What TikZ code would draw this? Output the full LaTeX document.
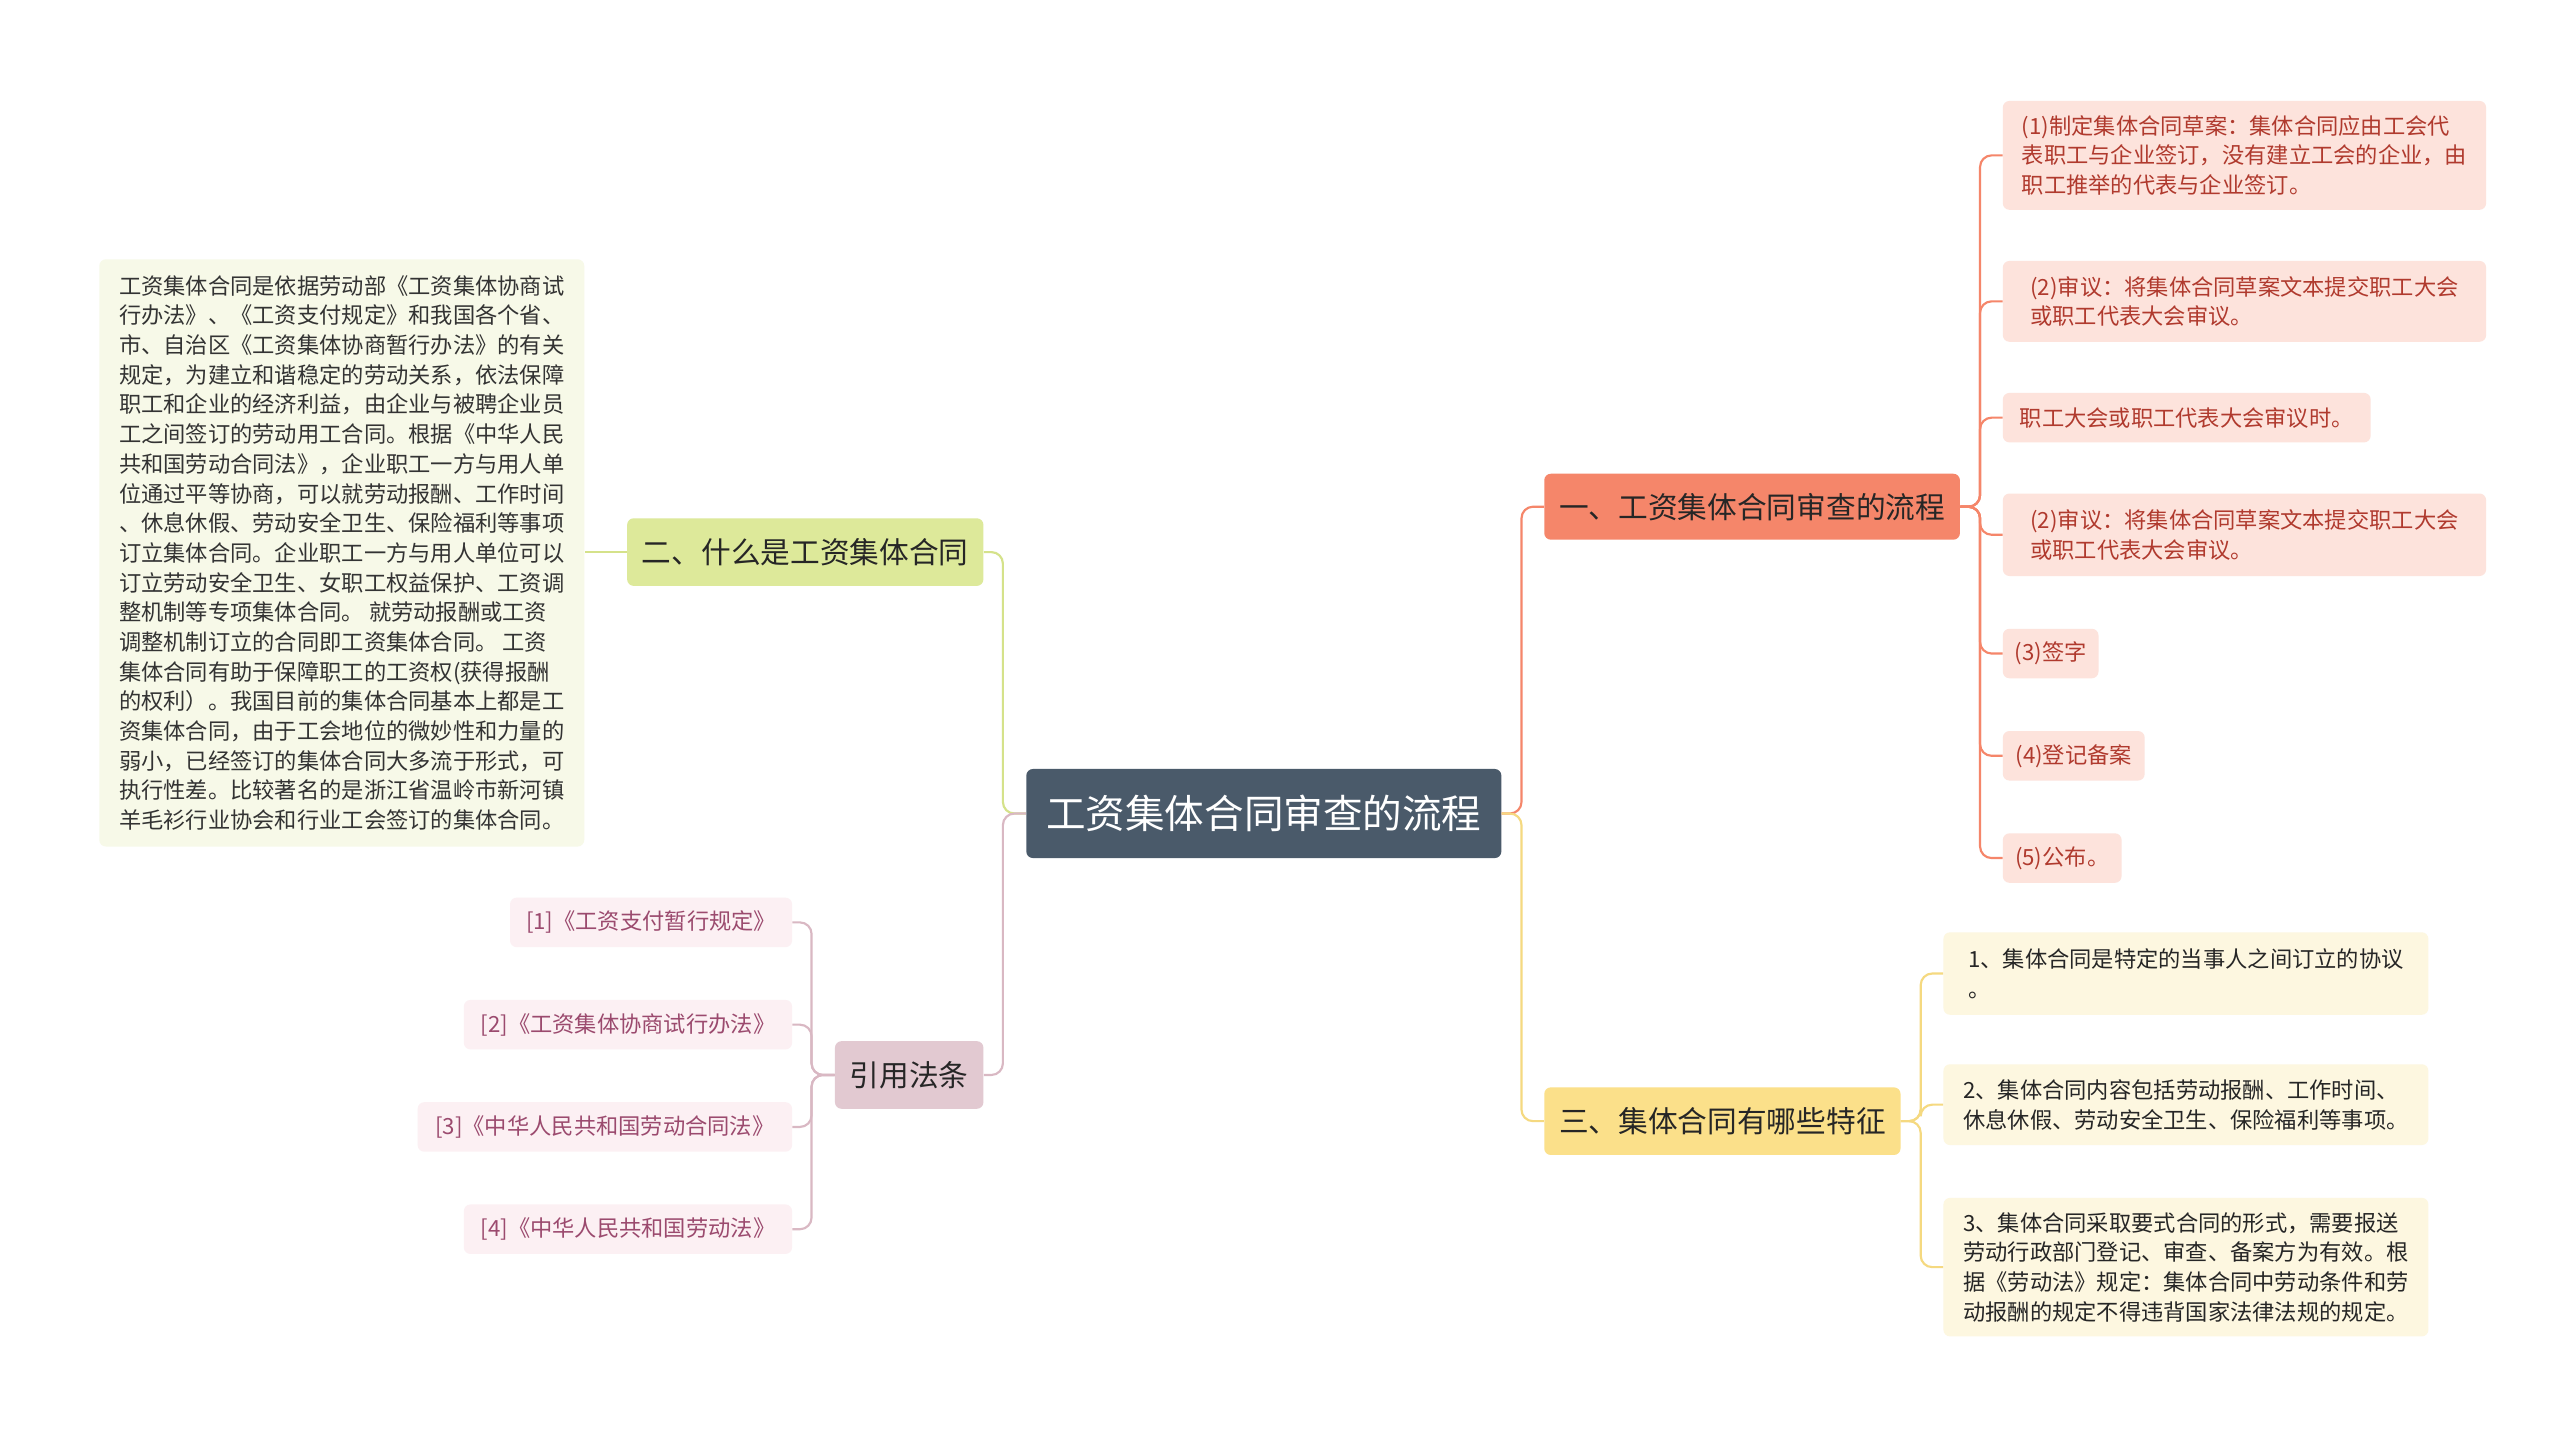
\documentclass[tikz,border=0pt]{standalone}
\usepackage{fontspec}
\setmainfont{Noto Sans CJK SC}
\definecolor{cen}{HTML}{4A5A6A}
\definecolor{sal}{HTML}{F5866A}
\definecolor{salL}{HTML}{FDE3DC}
\definecolor{salT}{HTML}{B03A2E}
\definecolor{yel}{HTML}{FBE08A}
\definecolor{yelL}{HTML}{FDF7E0}
\definecolor{yelC}{HTML}{F5D980}
\definecolor{grn}{HTML}{DDE99A}
\definecolor{grnL}{HTML}{F7F9E8}
\definecolor{grnC}{HTML}{D5E28A}
\definecolor{mau}{HTML}{E2C9D1}
\definecolor{mauL}{HTML}{FCF0F3}
\definecolor{mauT}{HTML}{9B4A6E}
\definecolor{mauC}{HTML}{D9B8C3}
\begin{document}
\begin{tikzpicture}[x=1pt,y=-1pt,
  box/.style={rounded corners=4pt,anchor=north west,inner xsep=5pt,inner ysep=0pt,align=left,font=\fontsize{13.5}{18}\selectfont,text=black!80},
  lf/.style={box,fill=salL,text=salT},
  yl/.style={box,fill=yelL,text=black!85},
  ml/.style={box,fill=mauL,text=mauT},
  br/.style={box,font=\fontsize{18}{22}\selectfont,text=black!85,inner xsep=8pt},
  cn/.style={rounded corners=7pt,line width=1.3pt}]
\fill[white] (0,0) rectangle (1552,872);
\useasboundingbox (0,0) rectangle (1552,872);
% center
\node[rounded corners=4pt,fill=cen,text=white,font=\fontsize{24}{28}\selectfont,minimum width=288pt,minimum height=54pt,anchor=north west,inner sep=0pt] (c) at (622,466) {工资集体合同审查的流程};
% branches
\node[br,fill=sal,minimum width=252pt,minimum height=40pt] (b1) at (936,287) {一、工资集体合同审查的流程};
\node[br,fill=yel,minimum width=216pt,minimum height=41pt] (b3) at (936,659) {三、集体合同有哪些特征};
\node[br,fill=grn,minimum width=216pt,minimum height=41pt] (b2) at (380,314) {二、什么是工资集体合同};
\node[br,fill=mau,minimum width=90pt,minimum height=41pt] (b4) at (506,631) {引用法条};
% salmon leaves
\node[lf,minimum width=293pt,minimum height=66pt] (l1) at (1214,61) {(1)制定集体合同草案：集体合同应由工会代\\表职工与企业签订，没有建立工会的企业，由\\职工推举的代表与企业签订。};
\node[lf,minimum width=293pt,minimum height=49pt] (l2) at (1214,158) {(2)审议：将集体合同草案文本提交职工大会\\或职工代表大会审议。};
\node[lf,minimum width=223pt,minimum height=30pt] (l3) at (1214,238) {职工大会或职工代表大会审议时。};
\node[lf,minimum width=293pt,minimum height=50pt] (l4) at (1214,299) {(2)审议：将集体合同草案文本提交职工大会\\或职工代表大会审议。};
\node[lf,minimum width=58pt,minimum height=30pt] (l5) at (1214,381) {(3)签字};
\node[lf,minimum width=86pt,minimum height=30pt] (l6) at (1214,443) {(4)登记备案};
\node[lf,minimum width=72pt,minimum height=30pt] (l7) at (1214,505) {(5)公布。};
% yellow leaves
\node[yl,minimum width=294pt,minimum height=50pt] (y1) at (1178,565) {1、集体合同是特定的当事人之间订立的协议\\。};
\node[yl,minimum width=294pt,minimum height=49pt] (y2) at (1178,645) {2、集体合同内容包括劳动报酬、工作时间、\\休息休假、劳动安全卫生、保险福利等事项。};
\node[yl,minimum width=294pt,minimum height=84pt] (y3) at (1178,726) {3、集体合同采取要式合同的形式，需要报送\\劳动行政部门登记、审查、备案方为有效。根\\据《劳动法》规定：集体合同中劳动条件和劳\\动报酬的规定不得违背国家法律法规的规定。};
% green leaf
\node[box,fill=grnL,minimum width=294pt,minimum height=356pt,inner xsep=6pt] (g1) at (60,157) {工资集体合同是依据劳动部《工资集体协商试\\行办法》、《工资支付规定》和我国各个省、\\市、自治区《工资集体协商暂行办法》的有关\\规定，为建立和谐稳定的劳动关系，依法保障\\职工和企业的经济利益，由企业与被聘企业员\\工之间签订的劳动用工合同。根据《中华人民\\共和国劳动合同法》，企业职工一方与用人单\\位通过平等协商，可以就劳动报酬、工作时间\\、休息休假、劳动安全卫生、保险福利等事项\\订立集体合同。企业职工一方与用人单位可以\\订立劳动安全卫生、女职工权益保护、工资调\\整机制等专项集体合同。 就劳动报酬或工资\\调整机制订立的合同即工资集体合同。 工资\\集体合同有助于保障职工的工资权(获得报酬\\的权利）。我国目前的集体合同基本上都是工\\资集体合同，由于工会地位的微妙性和力量的\\弱小，已经签订的集体合同大多流于形式，可\\执行性差。比较著名的是浙江省温岭市新河镇\\羊毛衫行业协会和行业工会签订的集体合同。};
% mauve leaves
\node[ml,minimum width=171pt,minimum height=30pt] (m1) at (309,544) {[1]《工资支付暂行规定》};
\node[ml,minimum width=199pt,minimum height=30pt] (m2) at (281,606) {[2]《工资集体协商试行办法》};
\node[ml,minimum width=227pt,minimum height=30pt] (m3) at (253,668) {[3]《中华人民共和国劳动合同法》};
\node[ml,minimum width=199pt,minimum height=30pt] (m4) at (281,730) {[4]《中华人民共和国劳动法》};
% connectors
\draw[cn,sal] (c.east) -- ++(12,0) |- (b1.west);
\draw[cn,yelC] (c.east) -- ++(12,0) |- (b3.west);
\draw[cn,grnC] (c.west) -- ++(-14,0) |- (b2.east);
\draw[cn,mauC] (c.west) -- ++(-14,0) |- (b4.east);
\foreach \n in {l1,l2,l3,l4,l5,l6,l7} \draw[cn,sal] (b1.east) -- ++(12,0) |- (\n.west);
\foreach \n in {y1,y2,y3} \draw[cn,yelC] (b3.east) -- ++(12,0) |- (\n.west);
\draw[cn,grnC] (b2.west) -- (g1.east |- b2.west);
\foreach \n in {m1,m2,m3,m4} \draw[cn,mauC] (b4.west) -- ++(-14,0) |- (\n.east);
\end{tikzpicture}
\end{document}
